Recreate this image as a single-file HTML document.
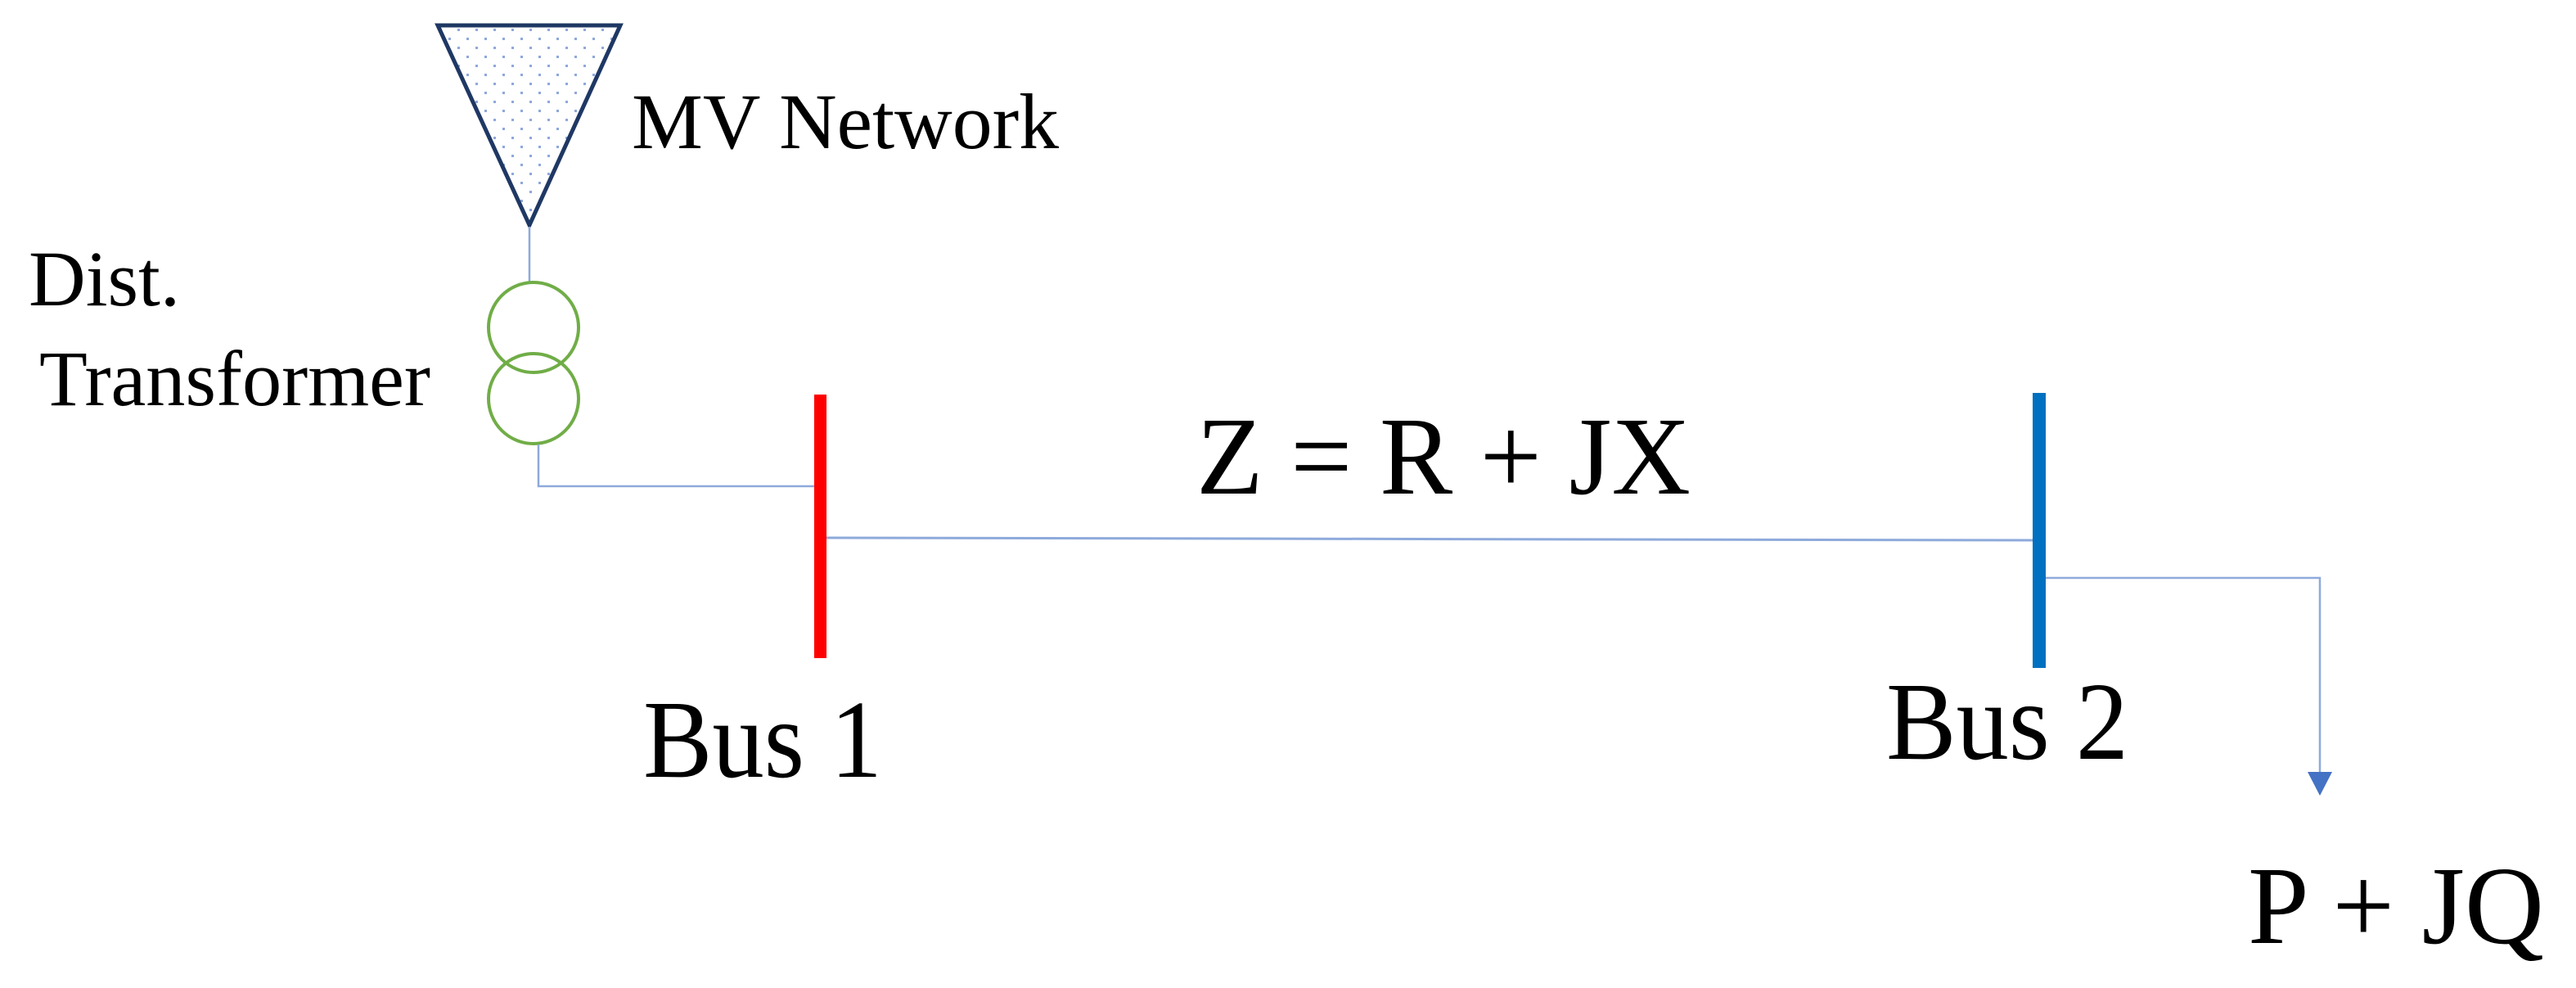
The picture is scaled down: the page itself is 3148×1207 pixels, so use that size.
<!DOCTYPE html>
<html><head><meta charset="utf-8"><style>
html,body{margin:0;padding:0;background:#fff;}
svg{display:block;}
text{font-family:"Liberation Serif",serif;fill:#000;}
</style></head><body>
<svg width="3148" height="1207" viewBox="0 0 3148 1207" xmlns="http://www.w3.org/2000/svg">
<defs>
<pattern id="dots" width="22" height="22" patternUnits="userSpaceOnUse" x="533" y="30">
<rect x="4" y="5" width="3" height="3" fill="#8fa8da"/>
<rect x="15" y="16" width="3" height="3" fill="#8fa8da"/>
</pattern>
</defs>
<rect width="3148" height="1207" fill="#fff"/>
<polygon points="535,31 758,31 647,275" fill="url(#dots)" stroke="#1f3864" stroke-width="5" stroke-linejoin="miter"/>
<line x1="647" y1="277" x2="647" y2="344" stroke="#8eaadb" stroke-width="2.5"/>
<circle cx="652" cy="400" r="55" fill="none" stroke="#70ad47" stroke-width="4"/>
<circle cx="652" cy="487" r="55" fill="none" stroke="#70ad47" stroke-width="4"/>
<polyline points="658,543 658,594 996,594" fill="none" stroke="#8eaadb" stroke-width="2.5"/>
<line x1="1003" y1="657" x2="2486" y2="660" stroke="#8eaadb" stroke-width="3"/>
<rect x="995" y="482" width="15" height="322" fill="#ff0000"/>
<rect x="2484" y="480" width="16" height="336" fill="#0070c0"/>
<polyline points="2500,706 2835,706 2835,950" fill="none" stroke="#8eaadb" stroke-width="2.5"/>
<polygon points="2820,943 2850,943 2835,972" fill="#4472c4"/>
<text x="772" y="181" font-size="96" textLength="522" lengthAdjust="spacingAndGlyphs">MV Network</text>
<text x="35" y="373" font-size="96" textLength="185" lengthAdjust="spacingAndGlyphs">Dist.</text>
<text x="48" y="495" font-size="96" textLength="478" lengthAdjust="spacingAndGlyphs">Transformer</text>
<text x="1462" y="603" font-size="136" textLength="604" lengthAdjust="spacingAndGlyphs">Z = R + JX</text>
<text x="786" y="949" font-size="136" textLength="292" lengthAdjust="spacingAndGlyphs">Bus 1</text>
<text x="2305" y="927" font-size="136" textLength="296" lengthAdjust="spacingAndGlyphs">Bus 2</text>
<text x="2747" y="1152" font-size="136" textLength="362" lengthAdjust="spacingAndGlyphs">P + JQ</text>
</svg>
</body></html>
